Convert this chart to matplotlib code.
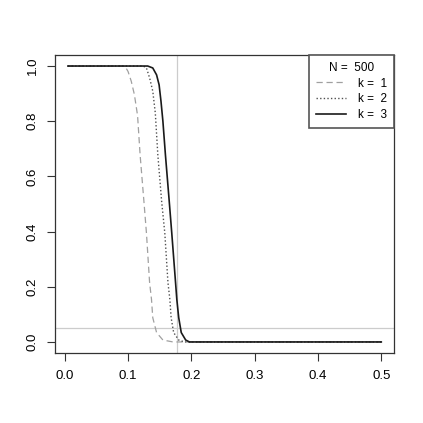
import matplotlib
matplotlib.use('Agg')
import matplotlib.pyplot as plt

plt.rcParams['font.family'] = ['Liberation Sans', 'DejaVu Sans']

# curves, N = 500
x_k1 = [0.005, 0.095, 0.100, 0.105, 0.110, 0.115, 0.119, 0.125, 0.129, 0.134, 0.137, 0.139, 0.145, 0.155, 0.171, 0.5]
y_k1 = [1.0, 1.0, 0.98, 0.945, 0.896, 0.82, 0.678, 0.51, 0.395, 0.215, 0.154, 0.088, 0.034, 0.007, 0.0, 0.0]

x_k2 = [0.005, 0.124, 0.129, 0.134, 0.139, 0.143, 0.147, 0.153, 0.158, 0.163, 0.166, 0.168, 0.172, 0.180, 0.189, 0.5]
y_k2 = [1.0, 1.0, 0.993, 0.957, 0.909, 0.83, 0.678, 0.51, 0.395, 0.215, 0.154, 0.088, 0.034, 0.007, 0.0, 0.0]

x_k3 = [0.005, 0.131, 0.139, 0.145, 0.149, 0.152, 0.155, 0.159, 0.165, 0.169, 0.175, 0.177, 0.180, 0.184, 0.191, 0.197, 0.5]
y_k3 = [1.0, 1.0, 0.993, 0.968, 0.932, 0.872, 0.80, 0.678, 0.51, 0.395, 0.215, 0.154, 0.088, 0.034, 0.007, 0.0, 0.0]

vline_x = 0.177
hline_y = 0.05
N = 500

fig = plt.figure(figsize=(4.23, 4.23), dpi=100)
ax = fig.add_axes([0.131, 0.1655, 0.800, 0.7045])

ax.axvline(vline_x, color='#cccccc', lw=0.9, zorder=1)
ax.axhline(hline_y, color='#cccccc', lw=0.9, zorder=1)

ax.plot(x_k1, y_k1, color='#a0a0a0', lw=0.9, dashes=(5, 3), label='k =  1')
ax.plot(x_k2, y_k2, color='#505050', lw=1.0, dashes=(1, 1.6), label='k =  2')
ax.plot(x_k3, y_k3, color='#1a1a1a', lw=1.2, label='k =  3')

ax.set_xlim(-0.0148, 0.5198)
ax.set_ylim(-0.04, 1.04)
ax.set_xticks([0.0, 0.1, 0.2, 0.3, 0.4, 0.5])
ax.set_yticks([0.0, 0.2, 0.4, 0.6, 0.8, 1.0])
ax.set_xticklabels(['0.0', '0.1', '0.2', '0.3', '0.4', '0.5'])
ax.set_yticklabels(['0.0', '0.2', '0.4', '0.6', '0.8', '1.0'], rotation=90, va='center')
ax.tick_params(direction='out', length=6, width=0.8, labelsize=9.5, pad=6, color='#333333')
for s in ax.spines.values():
    s.set_linewidth(0.9)
    s.set_color('#333333')

leg = ax.legend(title='N =  ' + str(N), loc='upper right', borderaxespad=0,
                fontsize=8.5, title_fontsize=8.5, fancybox=False, framealpha=1,
                edgecolor='#555555', handlelength=2.5, handletextpad=1.0,
                borderpad=0.6, labelspacing=0.3, alignment='center')
leg.get_frame().set_linewidth(1.2)

fig.savefig('out.png', dpi=100)
